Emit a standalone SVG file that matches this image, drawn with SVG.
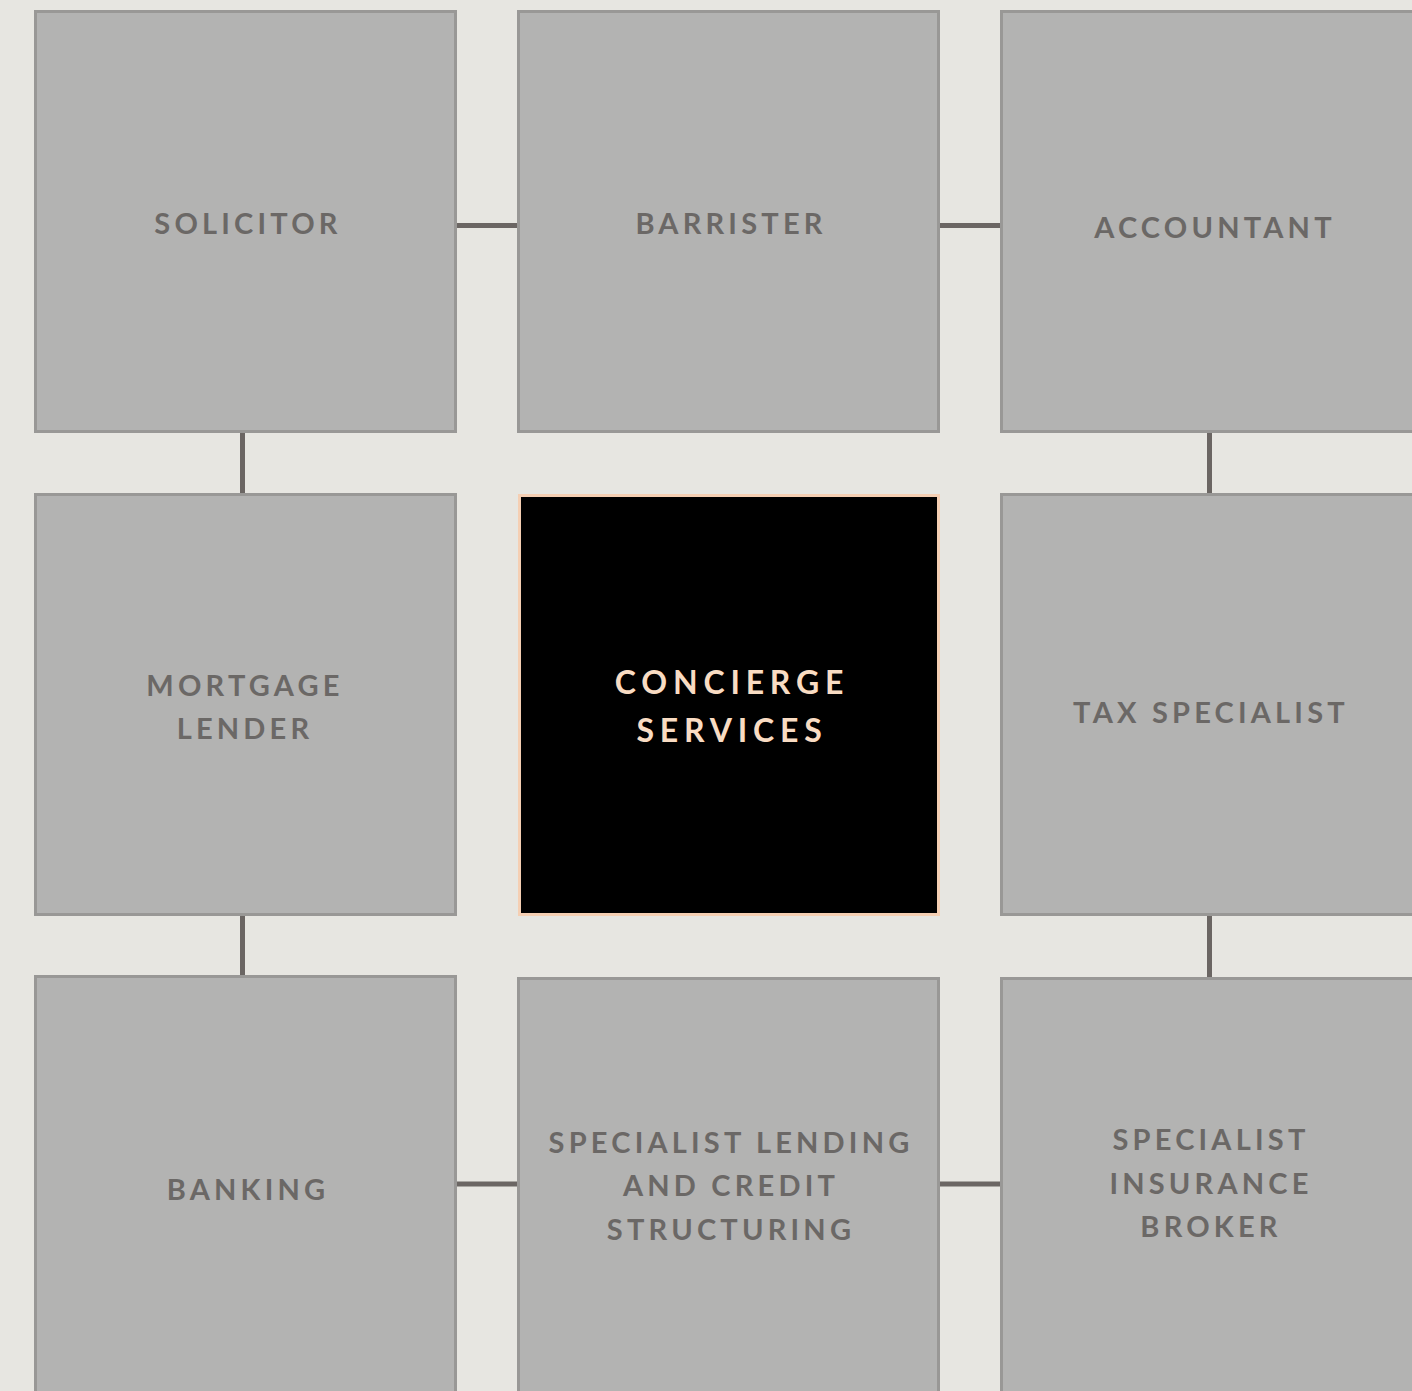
<svg xmlns="http://www.w3.org/2000/svg" width="1412" height="1391" viewBox="0 0 1412 1391">
  <style>
    .box { fill: #b3b3b2; stroke: #999896; stroke-width: 3; }
    .hub { fill: #000000; stroke: #f5cfb3; stroke-width: 3; }
    .lbl { font-family: Lato, "Liberation Sans", sans-serif; font-weight: 700; font-size: 29px; letter-spacing: 4.2px; fill: #6b6866; text-anchor: middle; }
    .hub-lbl { fill: #f9dcc3; font-size: 32px; letter-spacing: 5.8px; }
    .link { stroke: #6b6663; stroke-width: 5; fill: none; }
  </style>
  <rect width="1412" height="1391" fill="#e7e6e1"/>

  <g id="connectors">
    <line class="link" x1="457" y1="225.5" x2="517" y2="225.5"/>
    <line class="link" x1="940" y1="225.5" x2="1000" y2="225.5"/>
    <line class="link" x1="242.5" y1="433" x2="242.5" y2="493"/>
    <line class="link" x1="1209.5" y1="433" x2="1209.5" y2="493"/>
    <line class="link" x1="242.5" y1="916" x2="242.5" y2="975"/>
    <line class="link" x1="1209.5" y1="916" x2="1209.5" y2="977"/>
    <line class="link" x1="457" y1="1184" x2="517" y2="1184"/>
    <line class="link" x1="940" y1="1184" x2="1000" y2="1184"/>
  </g>

  <g id="solicitor">
    <rect class="box" x="35.5" y="11.5" width="420" height="420"/>
    <text class="lbl" x="248" y="234">SOLICITOR</text>
  </g>
  <g id="barrister">
    <rect class="box" x="518.5" y="11.5" width="420" height="420"/>
    <text class="lbl" x="731" y="234">BARRISTER</text>
  </g>
  <g id="accountant">
    <rect class="box" x="1001.5" y="11.5" width="420" height="420"/>
    <text class="lbl" x="1215" y="238">ACCOUNTANT</text>
  </g>
  <g id="mortgage-lender">
    <rect class="box" x="35.5" y="494.5" width="420" height="420"/>
    <text class="lbl" x="245" y="696">MORTGAGE</text>
    <text class="lbl" x="245" y="739">LENDER</text>
  </g>
  <g id="concierge-services">
    <rect class="hub" x="519.5" y="495.5" width="419" height="419"/>
    <text class="lbl hub-lbl" x="732" y="694">CONCIERGE</text>
    <text class="lbl hub-lbl" x="732" y="742">SERVICES</text>
  </g>
  <g id="tax-specialist">
    <rect class="box" x="1001.5" y="494.5" width="420" height="420"/>
    <text class="lbl" x="1211" y="723">TAX SPECIALIST</text>
  </g>
  <g id="banking">
    <rect class="box" x="35.5" y="976.5" width="420" height="420"/>
    <text class="lbl" x="248" y="1200">BANKING</text>
  </g>
  <g id="specialist-lending">
    <rect class="box" x="518.5" y="978.5" width="420" height="420"/>
    <text class="lbl" x="731" y="1153">SPECIALIST LENDING</text>
    <text class="lbl" x="731" y="1196">AND CREDIT</text>
    <text class="lbl" x="731" y="1240">STRUCTURING</text>
  </g>
  <g id="insurance-broker">
    <rect class="box" x="1001.5" y="978.5" width="420" height="420"/>
    <text class="lbl" x="1211" y="1150">SPECIALIST</text>
    <text class="lbl" x="1211" y="1194">INSURANCE</text>
    <text class="lbl" x="1211" y="1237">BROKER</text>
  </g>
</svg>
